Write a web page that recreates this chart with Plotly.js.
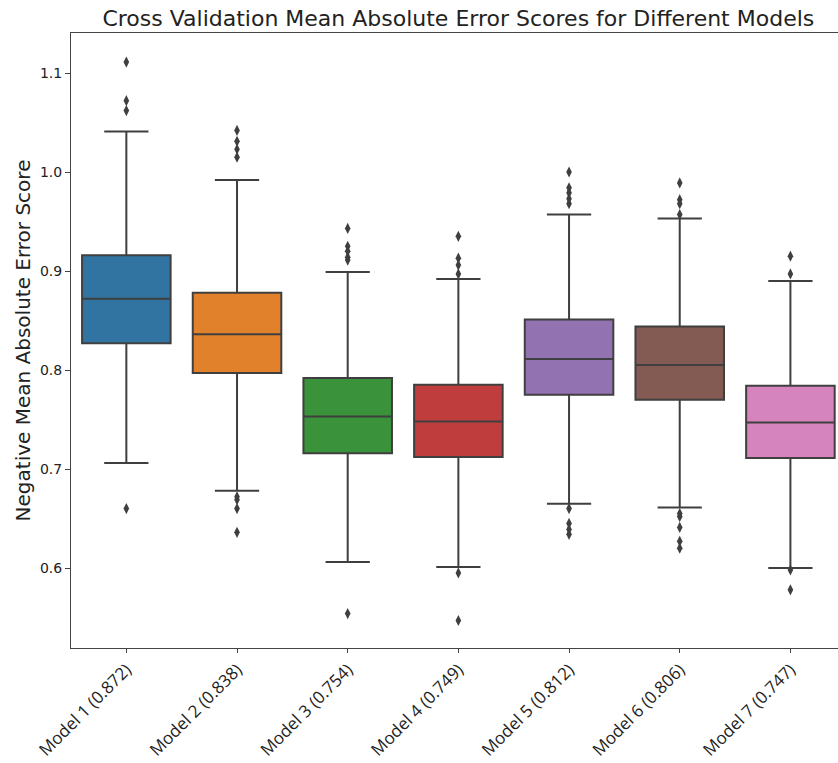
<!DOCTYPE html>
<html>
<head>
<meta charset="utf-8">
<script src="https://cdn.plot.ly/plotly-3.0.1.min.js"></script>
<style>html,body{margin:0;padding:0;background:#fff;}#chart{width:838px;height:763px;}</style>
</head>
<body>
<div id="chart"></div>
<script>
const categories = ["Model 1 (0.872)", "Model 2 (0.838)", "Model 3 (0.754)", "Model 4 (0.749)", "Model 5 (0.812)", "Model 6 (0.806)", "Model 7 (0.747)"];
const q1Values     = [0.827, 0.797, 0.716, 0.712, 0.775, 0.770, 0.711];
const medianValues = [0.872, 0.836, 0.753, 0.748, 0.811, 0.805, 0.747];
const q3Values     = [0.916, 0.878, 0.792, 0.785, 0.851, 0.844, 0.784];
const lowerWhisker = [0.706, 0.678, 0.606, 0.601, 0.665, 0.661, 0.600];
const upperWhisker = [1.041, 0.992, 0.899, 0.892, 0.957, 0.953, 0.890];
const outliers = [
  [1.111, 1.072, 1.062, 0.660],
  [1.042, 1.031, 1.023, 1.015, 0.672, 0.669, 0.660, 0.636],
  [0.943, 0.925, 0.920, 0.914, 0.911, 0.554],
  [0.935, 0.913, 0.906, 0.897, 0.595, 0.547],
  [1.000, 0.984, 0.979, 0.973, 0.968, 0.660, 0.645, 0.639, 0.634],
  [0.989, 0.972, 0.968, 0.957, 0.655, 0.652, 0.641, 0.627, 0.620],
  [0.915, 0.897, 0.598, 0.578]
];
const colors = ["#3274a1", "#e1812c", "#3a923a", "#c03d3e", "#9372b2", "#845b53", "#d684bd"];
const yTickVals = [0.6, 0.7, 0.8, 0.9, 1.0, 1.1];
const yTickText = ["0.6", "0.7", "0.8", "0.9", "1.0", "1.1"];

const lineColor = "#3f3f3f";
const traces = [];
categories.forEach((c, i) => {
  traces.push({
    type: "box",
    x: [c],
    q1: [q1Values[i]],
    median: [medianValues[i]],
    q3: [q3Values[i]],
    lowerfence: [lowerWhisker[i]],
    upperfence: [upperWhisker[i]],
    boxpoints: false,
    width: 0.8,
    whiskerwidth: 0.5,
    fillcolor: colors[i],
    line: {color: lineColor, width: 2},
    showlegend: false,
    hoverinfo: "skip"
  });
  traces.push({
    type: "scatter",
    mode: "markers",
    x: outliers[i].map(() => c),
    y: outliers[i],
    marker: {symbol: "diamond-tall", size: 8, color: lineColor},
    showlegend: false,
    hoverinfo: "skip"
  });
});

const layout = {
  width: 838,
  height: 763,
  margin: {l: 71, r: 0, t: 33, b: 115},
  paper_bgcolor: "#fff",
  plot_bgcolor: "#fff",
  boxmode: "overlay",
  title: {
    text: "Cross Validation Mean Absolute Error Scores for Different Models",
    font: {family: "DejaVu Sans", size: 22, color: "#222"},
    x: 0.505, xref: "paper", xanchor: "center",
    y: 1 - 18/763, yref: "container", yanchor: "middle"
  },
  xaxis: {
    type: "category",
    categoryorder: "array",
    categoryarray: categories,
    range: [-0.5, 6.43],
    showline: true, linecolor: "#444", linewidth: 1, mirror: true,
    ticks: "outside", ticklen: 4, tickcolor: "#444",
    tickangle: -45,
    tickfont: {family: "Open Sans", size: 17, color: "#222"},
    showgrid: false, zeroline: false, automargin: false
  },
  yaxis: {
    range: [0.5192, 1.1404],
    tickvals: yTickVals, ticktext: yTickText,
    showline: true, linecolor: "#444", linewidth: 1, mirror: false,
    ticks: "outside", ticklen: 5, tickcolor: "#444",
    tickfont: {family: "DejaVu Sans", size: 14, color: "#222"},
    title: {text: "Negative Mean Absolute Error Score", font: {family: "DejaVu Sans", size: 20, color: "#222"}, standoff: 3},
    showgrid: false, zeroline: false, automargin: false
  }
};

Plotly.newPlot("chart", traces, layout, {displayModeBar: false, staticPlot: true});
</script>
</body>
</html>
